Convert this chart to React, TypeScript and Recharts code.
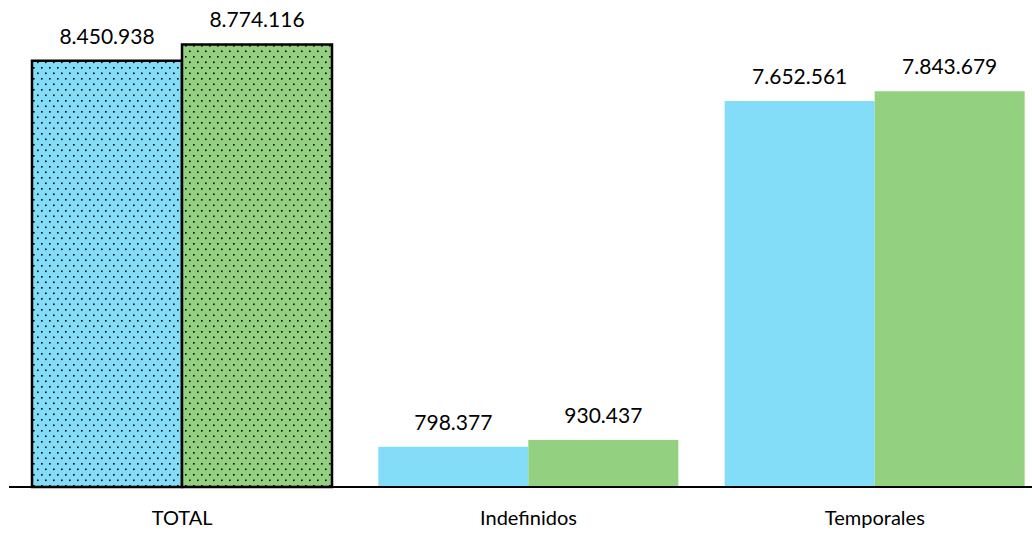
import { BarChart, Bar, XAxis, YAxis, Cell, LabelList } from 'recharts'

const categories = ['TOTAL', 'Indefinidos', 'Temporales']
const previousValues = [8450938, 798377, 7652561]
const currentValues = [8774116, 930437, 7843679]

const BLUE = '#84DDF8'
const GREEN = '#93D07F'

const data = categories.map((name, i) => ({
  name,
  previous: previousValues[i],
  current: currentValues[i],
}))

const fmt = (v: number) => String(v).replace(/\B(?=(\d{3})+(?!\d))/g, '.')

const FONT = 'Lato, "Open Sans", sans-serif'

export default function App() {
  return (
    <div style={{ width: 1032, height: 535, overflow: 'hidden' }}>
      <style>{'body { margin: 0; }'}</style>
      <BarChart
        width={1048}
        height={535}
        data={data}
        margin={{ top: 33, right: 0, left: 9, bottom: 18 }}
        barGap={0}
        barCategoryGap={23}
      >
        <defs>
          <pattern id="dotsBlue" width="8" height="11" patternUnits="userSpaceOnUse">
            <rect width="8" height="11" fill={BLUE} />
            <rect x="1" y="1" width="1.6" height="1.6" fill="#000" />
            <rect x="5" y="6.5" width="1.6" height="1.6" fill="#000" />
          </pattern>
          <pattern id="dotsGreen" width="8" height="11" patternUnits="userSpaceOnUse">
            <rect width="8" height="11" fill={GREEN} />
            <rect x="1" y="1" width="1.6" height="1.6" fill="#000" />
            <rect x="5" y="6.5" width="1.6" height="1.6" fill="#000" />
          </pattern>
        </defs>
        <XAxis
          dataKey="name"
          axisLine={{ stroke: '#000', strokeWidth: 2 }}
          tickLine={false}
          tickMargin={18}
          height={30}
          tick={{ fill: '#000', fontSize: 20, fontFamily: FONT }}
        />
        <YAxis hide domain={[0, 9000000]} />
        <Bar dataKey="previous" isAnimationActive={false}>
          {data.map((d, i) => (
            <Cell
              key={i}
              fill={i === 0 ? 'url(#dotsBlue)' : BLUE}
              stroke={i === 0 ? '#000' : 'none'}
              strokeWidth={i === 0 ? 2.5 : 0}
            />
          ))}
          <LabelList
            dataKey="previous"
            position="top"
            offset={17}
            formatter={(v: number) => fmt(v)}
            style={{ fill: '#000', fontSize: 21, fontFamily: FONT }}
          />
        </Bar>
        <Bar dataKey="current" isAnimationActive={false}>
          {data.map((d, i) => (
            <Cell
              key={i}
              fill={i === 0 ? 'url(#dotsGreen)' : GREEN}
              stroke={i === 0 ? '#000' : 'none'}
              strokeWidth={i === 0 ? 2.5 : 0}
            />
          ))}
          <LabelList
            dataKey="current"
            position="top"
            offset={17}
            formatter={(v: number) => fmt(v)}
            style={{ fill: '#000', fontSize: 21, fontFamily: FONT }}
          />
        </Bar>
      </BarChart>
    </div>
  )
}
